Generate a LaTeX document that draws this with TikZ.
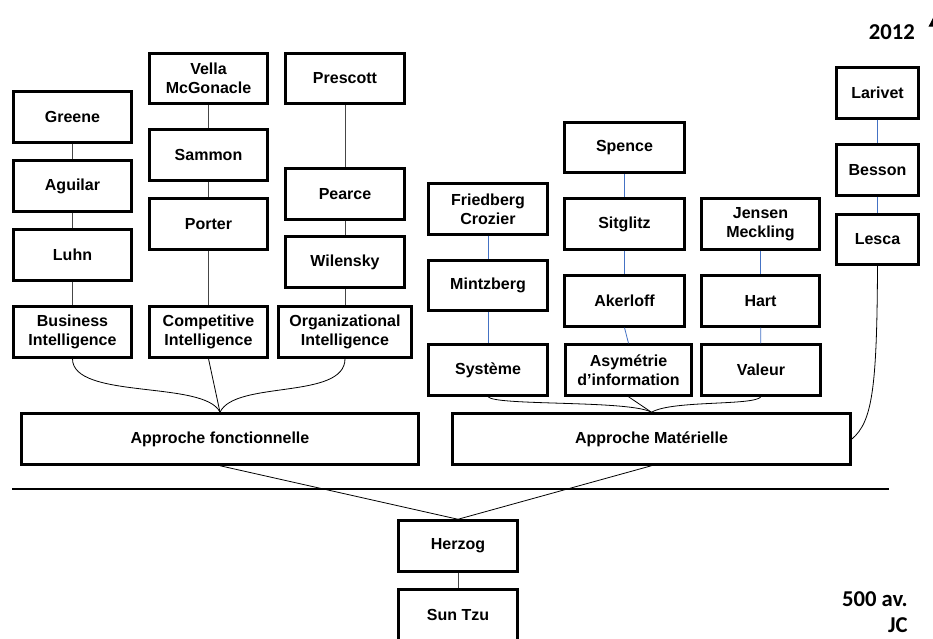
\documentclass[tikz,border=0pt]{standalone}
\usepackage{fontspec}
\setmainfont{Liberation Sans}
\newfontfamily\calib{Carlito}
\usetikzlibrary{arrows.meta}
\definecolor{lnblue}{RGB}{68,114,196}
\definecolor{lngray}{RGB}{70,70,70}
\tikzset{
  box/.style={draw, line width=2.1pt, align=center, inner sep=1pt,
    font=\bfseries\fontsize{12}{14.2}\selectfont, minimum height=38pt},
  bw/.style={minimum width=#1*0.75pt},
  gline/.style={draw=lngray, line width=0.6pt},
  bline/.style={draw=lnblue, line width=0.6pt},
  curv/.style={draw=black, line width=0.6pt},
  yearlbl/.style={font=\calib\bfseries\fontsize{17}{22}\selectfont, inner sep=0pt, align=right}
}
\begin{document}
\begin{tikzpicture}[x=0.75pt,y=-0.75pt]
\useasboundingbox (0,0) rectangle (933,639);
% left column 1
\node[box,bw=118] (greene) at (72.5,117) {Greene};
\node[box,bw=118] (aguilar) at (72.5,186) {Aguilar};
\node[box,bw=118] (luhn) at (72.5,255) {Luhn};
\node[box,bw=118] (bi) at (72.5,332) {Business\\Intelligence};
% column 2
\node[box,bw=118] (vella) at (208.5,78.5) {Vella\\McGonacle};
\node[box,bw=118] (sammon) at (208.5,155) {Sammon};
\node[box,bw=118] (porter) at (208.5,224) {Porter};
\node[box,bw=118] (ci) at (208.5,332) {Competitive\\Intelligence};
% column 3
\node[box,bw=119] (prescott) at (345,78.5) {Prescott};
\node[box,bw=119] (pearce) at (345,194) {Pearce};
\node[box,bw=119] (wilensky) at (345,262) {Wilensky};
\node[box,bw=133] (oi) at (345,332) {Organizational\\Intelligence};
% approaches
\node[box,bw=397] (af) at (220,439) {Approche fonctionnelle};
\node[box,bw=398] (am) at (651.5,439) {Approche Matérielle};
% right column 1
\node[box,bw=119] (friedberg) at (488,209) {Friedberg\\Crozier};
\node[box,bw=119] (mintzberg) at (488,285.5) {Mintzberg};
\node[box,bw=119] (systeme) at (488,370) {Système};
% right column 2
\node[box,bw=120] (spence) at (624.5,147.5) {Spence};
\node[box,bw=120] (sitglitz) at (624.5,224) {Sitglitz};
\node[box,bw=120] (akerloff) at (624.5,301) {Akerloff};
\node[box,bw=126] (asym) at (628.5,370) {Asymétrie\\d’information};
% right column 3
\node[box,bw=118] (jensen) at (760.5,224) {Jensen\\Meckling};
\node[box,bw=118] (hart) at (760.5,301) {Hart};
\node[box,bw=119] (valeur) at (761,370) {Valeur};
% far right
\node[box,bw=82] (larivet) at (877.5,93) {Larivet};
\node[box,bw=82] (besson) at (877.5,170) {Besson};
\node[box,bw=82] (lesca) at (877.5,239.5) {Lesca};
% bottom
\node[box,bw=119] (herzog) at (458,546) {Herzog};
\node[box,bw=119] (suntzu) at (458,615) {Sun Tzu};
% separator
\coordinate (sepl) at (12,489);
\coordinate (sepr) at (889,489);
\draw[line width=1.9pt] (sepl) -- (sepr);
% timeline arrow tip
\coordinate (tlb) at (934,60);
\coordinate (tlt) at (934,16);
\draw[line width=1pt,-{Triangle[length=8pt,width=8pt]}] (tlb) -- (tlt);
% labels
\node[yearlbl, anchor=base east] (y2012) at (915,39) {2012};
\node[yearlbl, anchor=base east] (y500) at (908,606) {500 av.};
\node[yearlbl, anchor=base east] (yjc) at (908,632) {JC};
% gray vertical links
\path[gline] (greene) -- (aguilar);
\path[gline] (aguilar) -- (luhn);
\path[gline] (luhn) -- (bi);
\path[gline] (vella) -- (sammon);
\path[gline] (sammon) -- (porter);
\path[gline] (porter) -- (ci);
\path[gline] (prescott) -- (pearce);
\path[gline] (pearce) -- (wilensky);
\path[gline] (wilensky) -- (oi);
\path[gline] (herzog) -- (suntzu);
% blue vertical links
\path[bline] (friedberg) -- (mintzberg);
\path[bline] (mintzberg) -- (systeme);
\path[bline] (spence) -- (sitglitz);
\path[bline] (sitglitz) -- (akerloff);
\path[bline] (akerloff.south) -- (asym.north);
\path[bline] (jensen) -- (hart);
\path[bline] (hart) -- (valeur);
\path[bline] (larivet) -- (besson);
\path[bline] (besson) -- (lesca);
% brace curves into approches
\path[curv] (bi.south) .. controls (72.5,400) and (205,380) .. (af.north);
\path[curv] (ci.south) -- (af.north);
\path[curv] (oi.south) .. controls (345,400) and (235,380) .. (af.north);
\path[curv] (systeme.south) .. controls (495,406) and (630,400) .. (am.north);
\path[curv] (asym.south) -- (am.north);
\path[curv] (valeur.south) .. controls (754,406) and (672,400) .. (am.north);
\path[curv] (lesca.south) .. controls (877,390) and (872,422) .. (am.east);
% herzog links
\path[curv] (af.south) -- (herzog.north);
\path[curv] (am.south) -- (herzog.north);
\end{tikzpicture}
\end{document}
